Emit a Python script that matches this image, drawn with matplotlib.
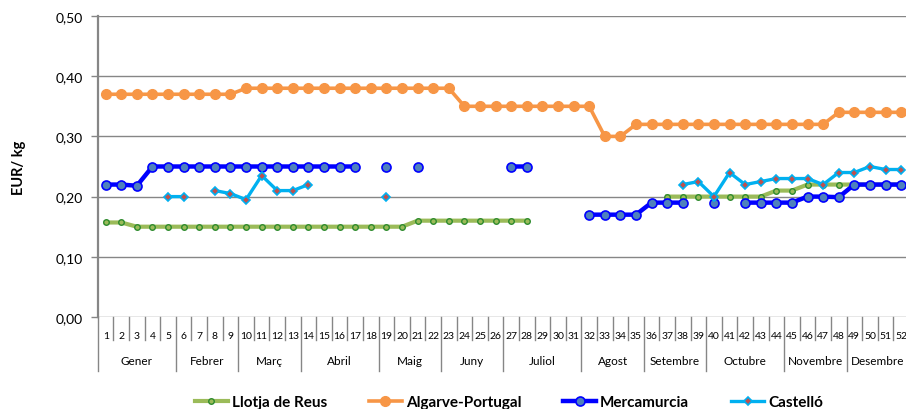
import numpy as np
import matplotlib
matplotlib.use("Agg")
import matplotlib.pyplot as plt

plt.rcParams['font.family'] = ['Lato', 'DejaVu Sans']

nan = np.nan
weeks = list(range(1, 53))

months = ["Gener", "Febrer", "Març", "Abril", "Maig", "Juny", "Juliol",
          "Agost", "Setembre", "Octubre", "Novembre", "Desembre"]
month_weeks = [5, 4, 4, 5, 4, 4, 5, 4, 4, 5, 4, 4]

llotja = [0.157, 0.157, 0.15, 0.15, 0.15, 0.15, 0.15, 0.15, 0.15, 0.15,
          0.15, 0.15, 0.15, 0.15, 0.15, 0.15, 0.15, 0.15, 0.15, 0.15,
          0.16, 0.16, 0.16, 0.16, 0.16, 0.16, 0.16, 0.16, nan, nan,
          nan, nan, nan, nan, nan, nan, 0.20, 0.20, 0.20, 0.20,
          0.20, 0.20, 0.20, 0.21, 0.21, 0.22, 0.22, 0.22, 0.22, 0.22,
          0.22, 0.22]

algarve = [0.37, 0.37, 0.37, 0.37, 0.37, 0.37, 0.37, 0.37, 0.37, 0.38,
           0.38, 0.38, 0.38, 0.38, 0.38, 0.38, 0.38, 0.38, 0.38, 0.38,
           0.38, 0.38, 0.38, 0.35, 0.35, 0.35, 0.35, 0.35, 0.35, 0.35,
           0.35, 0.35, 0.30, 0.30, 0.32, 0.32, 0.32, 0.32, 0.32, 0.32,
           0.32, 0.32, 0.32, 0.32, 0.32, 0.32, 0.32, 0.34, 0.34, 0.34,
           0.34, 0.34]

mercamurcia = [0.22, 0.22, 0.218, 0.25, 0.25, 0.25, 0.25, 0.25, 0.25, 0.25,
               0.25, 0.25, 0.25, 0.25, 0.25, 0.25, 0.25, nan, 0.25, nan,
               0.25, nan, nan, nan, nan, nan, 0.25, 0.25, nan, nan,
               nan, 0.17, 0.17, 0.17, 0.17, 0.19, 0.19, 0.19, nan, 0.19,
               nan, 0.19, 0.19, 0.19, 0.19, 0.20, 0.20, 0.199, 0.22, 0.22,
               0.22, 0.22]

castello = [nan, nan, nan, nan, 0.20, 0.20, nan, 0.21, 0.205, 0.195,
            0.235, 0.21, 0.21, 0.22, nan, nan, nan, nan, 0.20, nan,
            nan, nan, nan, nan, nan, nan, nan, nan, nan, nan,
            nan, nan, nan, nan, nan, nan, nan, 0.22, 0.225, 0.20,
            0.24, 0.22, 0.225, 0.23, 0.23, 0.23, 0.22, 0.24, 0.24, 0.25,
            0.245, 0.245]

fig = plt.figure(figsize=(9.06, 4.10), dpi=100)
ax = fig.add_axes([97.9 / 906, 92 / 410, 811 / 906, 301 / 410])

grid_c = '#868686'
ax.plot(weeks, llotja, color='#9BBB59', lw=3, marker='o', ms=4,
        mfc='#9BBB59', mec='#2E8B2E', mew=1, label='Llotja de Reus')
ax.plot(weeks, algarve, color='#F79646', lw=2.6, marker='o', ms=7,
        mfc='#F79646', mec='#F79646', label='Algarve-Portugal')
ax.plot(weeks, mercamurcia, color='#0000FF', lw=3.2, marker='o', ms=6.5,
        mfc='#4F81BD', mec='#0000FF', mew=1.2, label='Mercamurcia')
ax.plot(weeks, castello, color='#00B0F0', lw=2.4, marker='D', ms=4.5,
        mfc='#C0504D', mec='#00B0F0', mew=1.2, label='Castelló')

ax.set_xlim(0.5, 52.5)
ax.set_ylim(0, 0.5)
yt = [0, 0.1, 0.2, 0.3, 0.4, 0.5]
ax.set_yticks(yt)
ax.set_yticklabels([f"{v:.2f}".replace('.', ',') for v in yt], fontsize=10)
ax.tick_params(axis='y', length=5, width=1, color=grid_c, pad=6)
for v in yt:
    ax.axhline(v, color=grid_c, lw=1, zorder=0)

ax.set_xticks([])
for s in ['top', 'right', 'bottom']:
    ax.spines[s].set_visible(False)
ax.spines['left'].set_color(grid_c)
ax.spines['left'].set_linewidth(1.6)

trans = ax.get_xaxis_transform()
# week numbers and separators
for w in weeks:
    ax.text(w, -0.06, str(w), transform=trans, ha='center', va='center',
            fontsize=7.5, clip_on=False)
boundaries = np.cumsum([0] + month_weeks) + 0.5
for k in range(53):
    x = k + 0.5
    low = -0.18 if x in boundaries else -0.076
    ax.plot([x, x], [0, low], transform=trans, color=grid_c, lw=1,
            clip_on=False)
for i, m in enumerate(months):
    center = (boundaries[i] + boundaries[i + 1]) / 2
    ax.text(center, -0.146, m, transform=trans, ha='center', va='center',
            fontsize=8.5, clip_on=False)

fig.text(19 / 906, 0.5 * (92 + 393) / 410, 'EUR/ kg', rotation=90,
         ha='center', va='center', fontsize=10.5, fontweight='bold')

handles, labels = ax.get_legend_handles_labels()
fig.legend(handles, labels, loc='center', ncol=4,
           bbox_to_anchor=(509 / 906, 1 - 403 / 410), frameon=False,
           prop={'weight': 'bold', 'size': 11}, handlelength=2.15,
           handletextpad=0.26, columnspacing=2.75, borderaxespad=0)

fig.savefig('out.png', dpi=100)
